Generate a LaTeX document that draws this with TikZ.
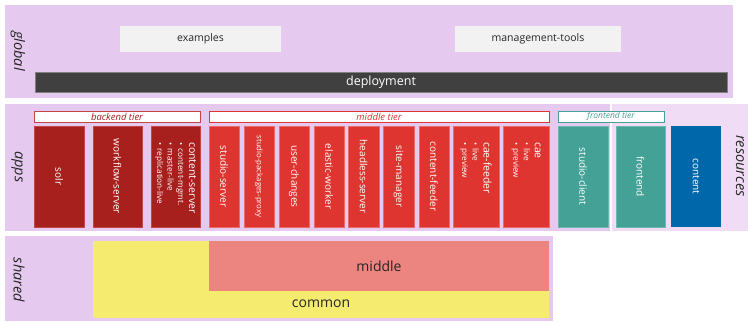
\documentclass[tikz,border=0pt]{standalone}
\usepackage{fontspec}
\setmainfont{Open Sans}
\definecolor{panel}{HTML}{E5C9EE}
\definecolor{respanel}{HTML}{F0DCF4}
\definecolor{lightbox}{HTML}{F2F2F2}
\definecolor{deploy}{HTML}{404040}
\definecolor{backred}{HTML}{A8201D}
\definecolor{backredline}{HTML}{C24744}
\definecolor{midred}{HTML}{DE3531}
\definecolor{midredline}{HTML}{EA6C68}
\definecolor{teal}{HTML}{43A195}
\definecolor{tealline}{HTML}{6DB8AE}
\definecolor{blue}{HTML}{0067AA}
\definecolor{yell}{HTML}{F5EB6E}
\definecolor{salmon}{HTML}{EC847F}
\definecolor{dtext}{HTML}{262626}
\tikzset{
  rect/.style={rectangle, inner sep=0pt, outer sep=0pt},
  panelbox/.style={rect, fill=panel},
  greybox/.style={rect, fill=lightbox, text=dtext, font=\fontsize{10.5}{12}\selectfont},
  sidelabel/.style={rect, rotate=-90, text=dtext, font=\fontsize{14.5}{16}\selectfont\itshape},
  tierbox/.style={rect, fill=white, draw=#1, line width=0.8pt, text=#1, font=\fontsize{9.5}{11}\selectfont\itshape, minimum height=11pt},
  appbox/.style={rect, fill=#1, text=white, minimum height=101pt, font=\fontsize{10}{12}\selectfont},
  backbox/.style={appbox=backred, draw=backredline, line width=0.6pt},
  midbox/.style={appbox=midred, draw=midredline, line width=0.6pt},
  tealbox/.style={appbox=teal, draw=tealline, line width=0.6pt},
  listtext/.style={rect, rotate=-90, anchor=west, align=left, text=white, font=\fontsize{8.2}{10.5}\selectfont},
}
\newcommand{\ttl}[1]{{\fontsize{10.5}{12}\selectfont #1}}
\newcommand{\bul}[1]{\textbullet\hspace{3.5pt}#1}
\begin{document}
\begin{tikzpicture}[x=1pt,y=-1pt]
\useasboundingbox (0,0) rectangle (748,322);
% panels
\node[panelbox, minimum width=728pt, minimum height=93pt] (global) at (369,51.5) {};
\node[panelbox, minimum width=605pt, minimum height=127pt] (apps) at (307.5,167.5) {};
\node[rect, fill=respanel, minimum width=136pt, minimum height=127pt] (res) at (680,167.5) {};
\node[panelbox, minimum width=548pt, minimum height=85pt] (shared) at (279,278.5) {};
% side labels
\node[sidelabel] (globalL) at (18,51) {global};
\node[sidelabel] (appsL) at (17,167) {apps};
\node[sidelabel] (sharedL) at (19,280) {shared};
\node[sidelabel] (resL) at (740,166) {resources};
% global
\node[greybox, minimum width=161pt, minimum height=26pt] (examples) at (200.5,39) {examples};
\node[greybox, minimum width=166pt, minimum height=26pt] (mgmt) at (538,39) {management-tools};
\node[rect, fill=deploy, draw=gray, line width=0.5pt, text=white, font=\fontsize{12.5}{14}\selectfont, minimum width=692pt, minimum height=20pt] (deployment) at (381,82) {deployment};
% tiers
\node[tierbox=backredline, text=backred, minimum width=166pt] (backtier) at (117,116.5) {backend tier};
\node[tierbox=midred, minimum width=340pt] (midtier) at (379,116.5) {middle tier};
\node[tierbox=teal, minimum width=106pt, font=\fontsize{8.5}{10}\selectfont\itshape] (fronttier) at (611,116.5) {frontend tier};
% backend boxes
\node[backbox, minimum width=50pt] (solr) at (59,176.5) {\rotatebox{-90}{solr}};
\node[backbox, minimum width=49pt] (workflow) at (117.5,176.5) {\rotatebox{-90}{workflow-server}};
\node[backbox, minimum width=49pt] (cs) at (175.5,176.5) {};
\node[listtext] (csT) at (175.5,142) {\ttl{content-server}\\[0.5pt]\bul{content-mgmt.}\\\bul{master-live}\\\bul{replication-live}};
% middle boxes
\node[midbox, minimum width=30pt] (studioserver) at (224,176.5) {\rotatebox{-90}{studio-server}};
\node[midbox, minimum width=30pt, font=\fontsize{7.8}{9}\selectfont] (spp) at (259,176.5) {\rotatebox{-90}{studio-packages-proxy}};
\node[midbox, minimum width=30pt] (uc) at (294,176.5) {\rotatebox{-90}{user-changes}};
\node[midbox, minimum width=30pt] (ew) at (329,176.5) {\rotatebox{-90}{elastic-worker}};
\node[midbox, minimum width=31pt] (hs) at (363.5,176.5) {\rotatebox{-90}{headless-server}};
\node[midbox, minimum width=31pt] (sm) at (398.5,176.5) {\rotatebox{-90}{site-manager}};
\node[midbox, minimum width=30pt] (cf) at (434,176.5) {\rotatebox{-90}{content-feeder}};
\node[midbox, minimum width=46pt] (caef) at (476,176.5) {};
\node[listtext] (caefT) at (476,142) {\ttl{cae-feeder}\\[0.5pt]\bul{live}\\\bul{preview}};
\node[midbox, minimum width=46pt] (cae) at (526,176.5) {};
\node[listtext] (caeT) at (526,142) {\ttl{cae}\\[0.5pt]\bul{live}\\\bul{preview}};
% frontend
\node[tealbox, minimum width=50pt] (sc) at (583,176.5) {\rotatebox{-90}{studio-client}};
\node[tealbox, minimum width=49pt] (frontend) at (640.5,176.5) {\rotatebox{-90}{frontend}};
\node[appbox=blue, minimum width=50pt] (content) at (696,176.5) {\rotatebox{-90}{content}};
% shared
\node[rect, fill=yell, minimum width=456pt, minimum height=77pt] (common) at (321,279.5) {};
\node[rect, text=dtext, font=\fontsize{14}{16}\selectfont] (commonT) at (321,304) {common};
\node[rect, fill=salmon, text=dtext, font=\fontsize{14}{16}\selectfont, minimum width=340pt, minimum height=50pt] (middle) at (379,266) {middle};
\end{tikzpicture}
\end{document}
